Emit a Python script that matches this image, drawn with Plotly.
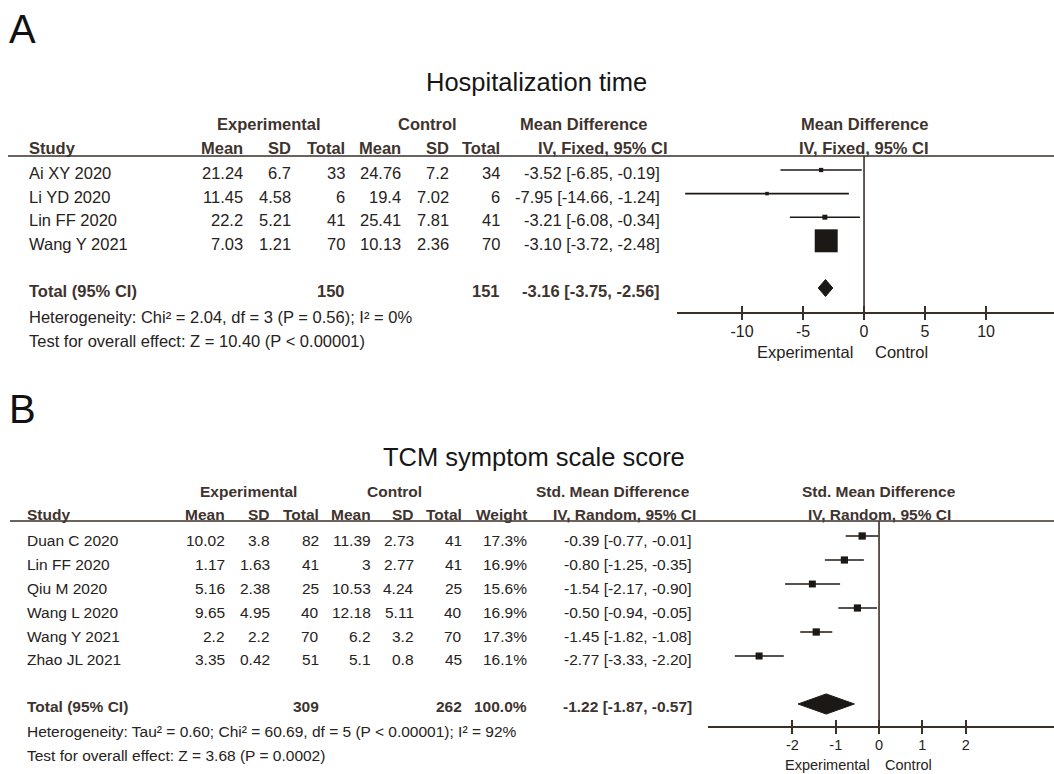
import math
import plotly.graph_objects as go

W, H = 1054, 774

# ---------------- Panel A data: Hospitalization time ----------------
a_title = "Hospitalization time"
a_studies = ["Ai XY 2020", "Li YD 2020", "Lin FF 2020", "Wang Y 2021"]
a_exp_mean = [21.24, 11.45, 22.2, 7.03]
a_exp_sd = [6.7, 4.58, 5.21, 1.21]
a_exp_n = [33, 6, 41, 70]
a_ctl_mean = [24.76, 19.4, 25.41, 10.13]
a_ctl_sd = [7.2, 7.02, 7.81, 2.36]
a_ctl_n = [34, 6, 41, 70]
a_md = [-3.52, -7.95, -3.21, -3.10]
a_lo = [-6.85, -14.66, -6.08, -3.72]
a_hi = [-0.19, -1.24, -0.34, -2.48]
a_total_n = [150, 151]
a_pooled = [-3.16, -3.75, -2.56]
a_het = "Heterogeneity: Chi² = 2.04, df = 3 (P = 0.56); I² = 0%"
a_test = "Test for overall effect: Z = 10.40 (P < 0.00001)"
a_ticks = [-10, -5, 0, 5, 10]

# ---------------- Panel B data: TCM symptom scale score ----------------
b_title = "TCM symptom scale score"
b_studies = ["Duan C 2020", "Lin FF 2020", "Qiu M 2020", "Wang L 2020", "Wang Y 2021", "Zhao JL 2021"]
b_exp_mean = [10.02, 1.17, 5.16, 9.65, 2.2, 3.35]
b_exp_sd = [3.8, 1.63, 2.38, 4.95, 2.2, 0.42]
b_exp_n = [82, 41, 25, 40, 70, 51]
b_ctl_mean = [11.39, 3, 10.53, 12.18, 6.2, 5.1]
b_ctl_sd = [2.73, 2.77, 4.24, 5.11, 3.2, 0.8]
b_ctl_n = [41, 41, 25, 40, 70, 45]
b_weight = [17.3, 16.9, 15.6, 16.9, 17.3, 16.1]
b_smd = [-0.39, -0.80, -1.54, -0.50, -1.45, -2.77]
b_lo = [-0.77, -1.25, -2.17, -0.94, -1.82, -3.33]
b_hi = [-0.01, -0.35, -0.90, -0.05, -1.08, -2.20]
b_total_n = [309, 262]
b_total_w = 100.0
b_pooled = [-1.22, -1.87, -0.57]
b_het = "Heterogeneity: Tau² = 0.60; Chi² = 60.69, df = 5 (P < 0.00001); I² = 92%"
b_test = "Test for overall effect: Z = 3.68 (P = 0.0002)"
b_ticks = [-2, -1, 0, 1, 2]

# ---------------- styles ----------------
FONT = "Liberation Sans, Arial, sans-serif"
TXT = "#262220"
HDR = "#3e332e"
LINE = "#3b2f2a"
MARK = "#1c1816"


def fx(p):
    return p / W


def fy(p):
    return 1 - p / H


def num(v):
    return f"{v:g}"


def ci(e, lo, hi):
    return f"{e:.2f} [{lo:.2f}, {hi:.2f}]"


fig = go.Figure()
ann = []


def text(x, y, s, anchor="left", size=16.5, bold=False, xref="paper", yref="paper",
         color=None, yshift=0, family=FONT):
    ann.append(dict(
        x=x, y=y, xref=xref, yref=yref, text=(f"<b>{s}</b>" if bold else s),
        showarrow=False, xanchor=anchor, yanchor="middle", yshift=yshift,
        font=dict(family=family, size=size, color=color or (HDR if bold else TXT)),
    ))


def forest(xa, ya, est, lo, hi, sizes, pooled, pooled_row, dh):
    cx, cy = [], []
    for i, (l, h) in enumerate(zip(lo, hi)):
        cx += [l, h, None]
        cy += [i, i, None]
    fig.add_trace(go.Scatter(x=cx, y=cy, mode="lines", xaxis=xa, yaxis=ya,
                             line=dict(color=MARK, width=1.6), hoverinfo="skip",
                             showlegend=False, cliponaxis=False))
    fig.add_trace(go.Scatter(x=est, y=list(range(len(est))), mode="markers", xaxis=xa, yaxis=ya,
                             marker=dict(symbol="square", size=sizes, color=MARK, opacity=1,
                                         line=dict(width=0)),
                             showlegend=False, cliponaxis=False))
    e, l, h = pooled
    r = pooled_row
    fig.add_trace(go.Scatter(x=[l, e, h, e, l], y=[r, r - dh, r, r + dh, r], mode="lines",
                             fill="toself", fillcolor=MARK, line=dict(color=MARK, width=1),
                             xaxis=xa, yaxis=ya, showlegend=False, hoverinfo="skip"))


# ---------------- Panel A ----------------
a_se = [(h - l) / 3.92 for l, h in zip(a_lo, a_hi)]
a_w = [1 / s ** 2 for s in a_se]
a_sizes = [max(3.5, 24 * math.sqrt(w / sum(a_w))) for w in a_w]
forest("x", "y", a_md, a_lo, a_hi, a_sizes, a_pooled, 5, 0.36)

# ---------------- Panel B ----------------
b_sizes = [17.5 * math.sqrt(w / 100) for w in b_weight]
forest("x2", "y2", b_smd, b_lo, b_hi, b_sizes, b_pooled, 7, 0.42)

axis_common = dict(showgrid=False, zeroline=False, showline=True, linecolor=LINE, linewidth=1.5,
                   ticks="outside", ticklen=6, tickwidth=1.5, tickcolor=LINE,
                   tickmode="array", fixedrange=True)

fig.update_layout(
    width=W, height=H, margin=dict(l=0, r=0, t=0, b=0),
    paper_bgcolor="white", plot_bgcolor="rgba(0,0,0,0)",
    xaxis=dict(domain=[fx(677), 1], range=[-15.33, 15.57], anchor="y",
               tickvals=a_ticks, ticktext=[str(t) for t in a_ticks], ticklabelstandoff=-2,
               tickfont=dict(family=FONT, size=16, color=TXT),
               minor=dict(ticks="inside", tickmode="array", tickvals=a_ticks, ticklen=6,
                          tickwidth=1.5, tickcolor=LINE, showgrid=False),
               **axis_common),
    yaxis=dict(domain=[fy(312), fy(156)], range=[6.017, -0.593], visible=False,
               fixedrange=True, anchor="x"),
    xaxis2=dict(domain=[fx(708), 1], range=[-3.95, 4.04], anchor="y2",
                tickvals=b_ticks, ticktext=[str(t) for t in b_ticks], ticklabelstandoff=-1,
                tickfont=dict(family=FONT, size=14.5, color=TXT),
                minor=dict(ticks="inside", tickmode="array", tickvals=b_ticks, ticklen=6,
                           tickwidth=1.5, tickcolor=LINE, showgrid=False),
                **axis_common),
    yaxis2=dict(domain=[fy(726), fy(521)], range=[7.917, -0.625], visible=False,
                fixedrange=True, anchor="x2"),
)

shapes = [
    # header rules
    dict(type="line", xref="paper", yref="paper", x0=fx(8), x1=1, y0=fy(156), y1=fy(156),
         line=dict(color=LINE, width=1.5)),
    dict(type="line", xref="paper", yref="paper", x0=fx(10), x1=1, y0=fy(521), y1=fy(521),
         line=dict(color=LINE, width=1.5)),
    # null-effect lines
    dict(type="line", xref="x", yref="paper", x0=0, x1=0, y0=fy(312), y1=fy(156),
         line=dict(color=LINE, width=1.6)),
    dict(type="line", xref="x2", yref="paper", x0=0, x1=0, y0=fy(726), y1=fy(521),
         line=dict(color=LINE, width=1.6)),
]
fig.update_layout(shapes=shapes)

# ---------- Panel labels and titles ----------
text(fx(7), fy(29), "A", size=40, color="#111")
text(fx(7), fy(409), "B", size=40, color="#111")
text(fx(536), fy(82), a_title, anchor="center", size=25.5, color="#161616")
text(fx(534), fy(457), b_title, anchor="center", size=25.5, color="#161616")

# ---------- Panel A table ----------
s = 16.5
text(fx(269), fy(124), "Experimental", "center", s, True)
text(fx(427), fy(124), "Control", "center", s, True)
text(fx(583), fy(124), "Mean Difference", "center", s, True)
text(0, fy(124), "Mean Difference", "center", s, True, xref="x")
hy = fy(148)
text(fx(27), hy, "Study", "left", s, True)
for xr, lab in [(245, "Mean"), (293, "SD"), (347, "Total"), (403, "Mean"), (451, "SD"),
                (502, "Total"), (670, "IV, Fixed, 95% CI")]:
    text(fx(xr), hy, lab, "right", s, True)
text(0, hy, "IV, Fixed, 95% CI", "center", s, True, xref="x")
for i in range(len(a_studies)):
    kw = dict(size=s, yref="y", yshift=-3)
    text(fx(27), i, a_studies[i], "left", **kw)
    text(fx(245), i, num(a_exp_mean[i]), "right", **kw)
    text(fx(293), i, num(a_exp_sd[i]), "right", **kw)
    text(fx(347), i, num(a_exp_n[i]), "right", **kw)
    text(fx(403), i, num(a_ctl_mean[i]), "right", **kw)
    text(fx(451), i, num(a_ctl_sd[i]), "right", **kw)
    text(fx(502), i, num(a_ctl_n[i]), "right", **kw)
    text(fx(662), i, ci(a_md[i], a_lo[i], a_hi[i]), "right", **kw)
kw = dict(size=s, yref="y", yshift=-3, bold=True)
text(fx(27), 5, "Total (95% CI)", "left", **kw)
text(fx(347), 5, str(a_total_n[0]), "right", **kw)
text(fx(502), 5, str(a_total_n[1]), "right", **kw)
text(fx(662), 5, ci(*a_pooled), "right", **kw)
text(fx(27), fy(317), a_het, "left", s)
text(fx(27), fy(341), a_test, "left", s)
text(0, fy(352), "Experimental", "right", 16.5, xref="x", color=TXT)
ann[-1]["xshift"] = -9
text(0, fy(352), "Control", "left", 16.5, xref="x", color=TXT)
ann[-1]["xshift"] = 9

# ---------- Panel B table ----------
s = 15.5
text(fx(248), fy(491), "Experimental", "center", s, True)
text(fx(394), fy(491), "Control", "center", s, True)
text(fx(613), fy(491), "Std. Mean Difference", "center", s, True)
text(0, fy(491), "Std. Mean Difference", "center", s, True, xref="x2")
hy = fy(514)
text(fx(25), hy, "Study", "left", s, True)
for xr, lab in [(227, "Mean"), (272, "SD"), (321, "Total"), (373, "Mean"), (416, "SD"),
                (464, "Total"), (529, "Weight"), (698, "IV, Random, 95% CI")]:
    text(fx(xr), hy, lab, "right", s, True)
text(0, hy, "IV, Random, 95% CI", "center", s, True, xref="x2")
for i in range(len(b_studies)):
    kw = dict(size=s, yref="y2", yshift=-4)
    text(fx(25), i, b_studies[i], "left", **kw)
    text(fx(227), i, num(b_exp_mean[i]), "right", **kw)
    text(fx(272), i, num(b_exp_sd[i]), "right", **kw)
    text(fx(321), i, num(b_exp_n[i]), "right", **kw)
    text(fx(373), i, num(b_ctl_mean[i]), "right", **kw)
    text(fx(416), i, num(b_ctl_sd[i]), "right", **kw)
    text(fx(464), i, num(b_ctl_n[i]), "right", **kw)
    text(fx(529), i, f"{b_weight[i]:.1f}%", "right", **kw)
    text(fx(694), i, ci(b_smd[i], b_lo[i], b_hi[i]), "right", **kw)
kw = dict(size=s, yref="y2", yshift=-3, bold=True)
text(fx(25), 7, "Total (95% CI)", "left", **kw)
text(fx(321), 7, str(b_total_n[0]), "right", **kw)
text(fx(464), 7, str(b_total_n[1]), "right", **kw)
text(fx(529), 7, f"{b_total_w:.1f}%", "right", **kw)
text(fx(694), 7, ci(*b_pooled), "right", **kw)
text(fx(25), fy(731), b_het, "left", s)
text(fx(25), fy(755), b_test, "left", s)
text(0, fy(765), "Experimental", "right", 14.5, xref="x2", color=TXT)
ann[-1]["xshift"] = -7
text(0, fy(765), "Control", "left", 14.5, xref="x2", color=TXT)
ann[-1]["xshift"] = 4

fig.update_layout(annotations=ann)
fig.write_html(
    "out.html",
    config={"displayModeBar": False},
    post_script="document.body.style.margin='0';"
                "document.documentElement.style.overflow='hidden';"
                "document.body.style.overflow='hidden';",
)
